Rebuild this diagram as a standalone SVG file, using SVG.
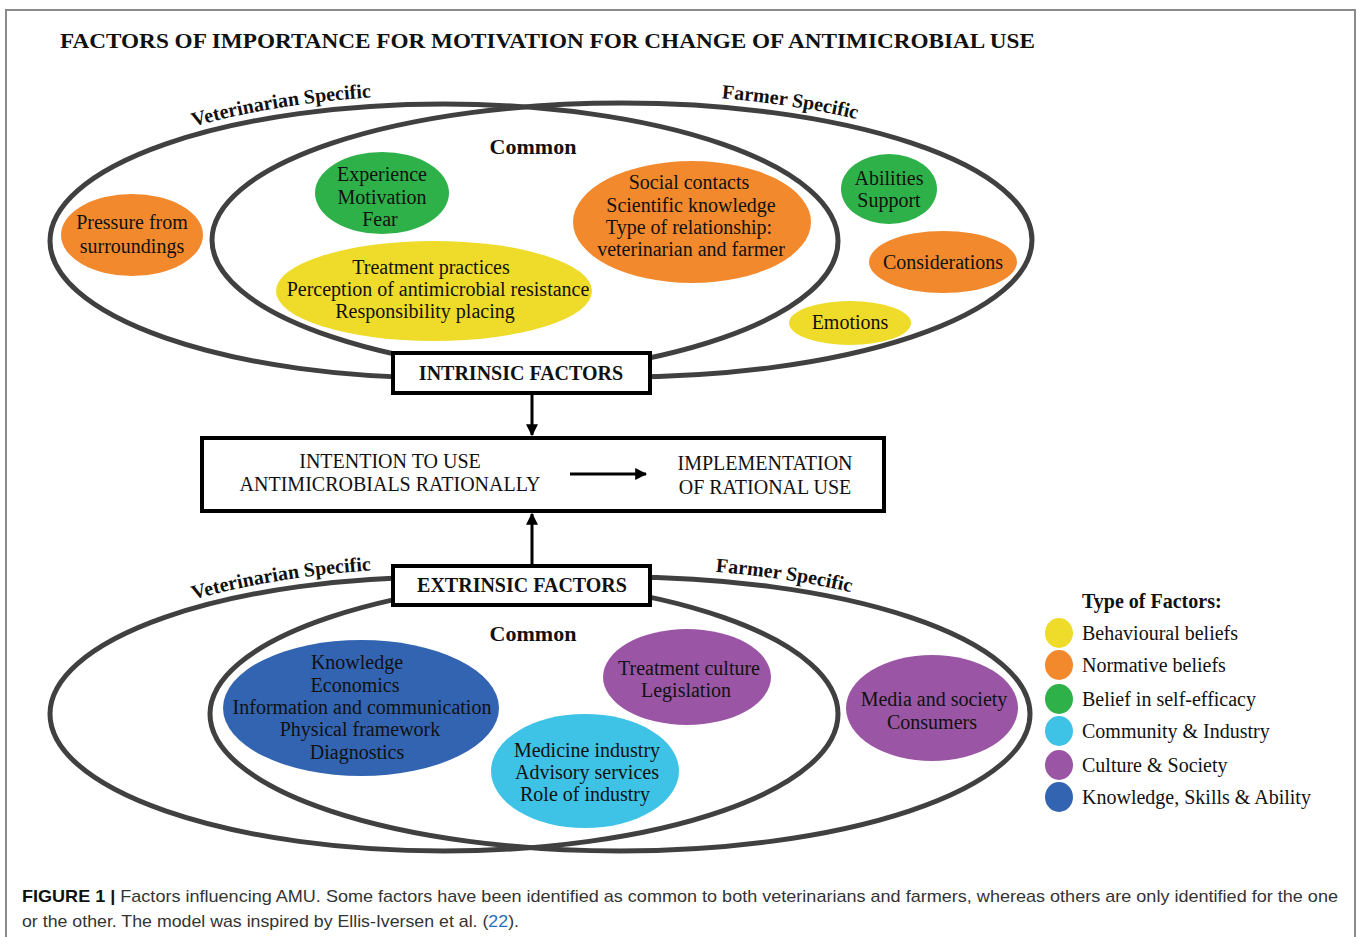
<svg xmlns="http://www.w3.org/2000/svg" width="1357" height="937" viewBox="0 0 1357 937">
<style>
.frame{fill:#fff;stroke:#8a8a8a;stroke-width:2}
.ring{fill:none;stroke:#404040;stroke-width:5}
.box{fill:#fff;stroke:#000;stroke-width:4}
.t{font-family:"Liberation Serif","Times New Roman",serif;font-size:20px;fill:#111;text-anchor:middle}
.b{font-weight:bold}
.cm{font-size:22px}
.lg{font-family:"Liberation Serif","Times New Roman",serif;font-size:20px;fill:#111}
.lab{font-family:"Liberation Serif","Times New Roman",serif;font-size:20px;font-weight:bold;fill:#111}
.cap{font-family:"Liberation Sans",Arial,sans-serif;font-size:17px;fill:#333}
.yel{fill:#efdc2a}.ora{fill:#f2892d}.gre{fill:#2eb149}.cya{fill:#3ec2e6}.pur{fill:#9a56a4}.blu{fill:#3264b1}
.con{stroke:#000;stroke-width:3;fill:none}
</style>
<defs>
<marker id="ah" viewBox="0 0 10 10" refX="9" refY="5" markerWidth="4" markerHeight="4" orient="auto" markerUnits="strokeWidth">
<path d="M0,0 L10,5 L0,10 z" fill="#000"/>
</marker>
<path id="vetTop" d="M 41,241 A 403,146 0 0,1 847,241"/>
<path id="farTop" d="M 203,240 A 419,146 0 0,1 1041,240"/>
<path id="vetBot" d="M 41,714 A 403,146 0 0,1 847,714"/>
<path id="farBot" d="M 201,714 A 419,146 0 0,1 1039,714"/>
</defs>
<rect class="frame" x="6" y="10" width="1349" height="940"/>
<text x="60" y="48" font-family="Liberation Serif,'Times New Roman',serif" font-size="21" font-weight="bold" fill="#111" textLength="975" lengthAdjust="spacingAndGlyphs">FACTORS OF IMPORTANCE FOR MOTIVATION FOR CHANGE OF ANTIMICROBIAL USE</text>

<g id="intrinsic-sets">
<ellipse class="ring" cx="444" cy="241" rx="394" ry="137"/>
<ellipse class="ring" cx="622" cy="240" rx="410" ry="137"/>
<text class="lab"><textPath href="#vetTop" startOffset="292" text-anchor="middle">Veterinarian Specific</textPath></text>
<text class="lab"><textPath href="#farTop" startOffset="638" text-anchor="middle">Farmer Specific</textPath></text>
<text class="t b cm" x="533" y="154">Common</text>
</g>

<g id="extrinsic-sets">
<ellipse class="ring" cx="444" cy="714" rx="394" ry="137"/>
<ellipse class="ring" cx="620" cy="714" rx="410" ry="137"/>
<text class="lab"><textPath href="#vetBot" startOffset="292" text-anchor="middle">Veterinarian Specific</textPath></text>
<text class="lab"><textPath href="#farBot" startOffset="634" text-anchor="middle">Farmer Specific</textPath></text>
<text class="t b cm" x="533" y="641">Common</text>
</g>

<g id="n-pressure"><ellipse class="ora" cx="132" cy="235" rx="71" ry="41"/>
<text class="t" x="132" y="229">Pressure from</text><text class="t" x="132" y="253">surroundings</text></g>
<g id="n-experience"><ellipse class="gre" cx="382" cy="193" rx="67" ry="41"/>
<text class="t" x="382" y="181">Experience</text><text class="t" x="382" y="204">Motivation</text><text class="t" x="380" y="226">Fear</text></g>
<g id="n-treatment"><ellipse class="yel" cx="434" cy="291" rx="158" ry="50"/>
<text class="t" x="431" y="274">Treatment practices</text><text class="t" x="438" y="296">Perception of antimicrobial resistance</text><text class="t" x="425" y="318">Responsibility placing</text></g>
<g id="n-social"><ellipse class="ora" cx="692" cy="222" rx="119" ry="61"/>
<text class="t" x="689" y="189">Social contacts</text><text class="t" x="691" y="212">Scientific knowledge</text><text class="t" x="689" y="234">Type of relationship:</text><text class="t" x="691" y="256">veterinarian and farmer</text></g>
<g id="n-abilities"><ellipse class="gre" cx="889" cy="189" rx="48" ry="35"/>
<text class="t" x="889" y="185">Abilities</text><text class="t" x="889" y="207">Support</text></g>
<g id="n-considerations"><ellipse class="ora" cx="943" cy="262" rx="74" ry="31"/>
<text class="t" x="943" y="269">Considerations</text></g>
<g id="n-emotions"><ellipse class="yel" cx="850" cy="323" rx="61" ry="22"/>
<text class="t" x="850" y="329">Emotions</text></g>

<g id="n-knowledge"><ellipse class="blu" cx="361" cy="708" rx="138" ry="68"/>
<text class="t" x="357" y="669">Knowledge</text><text class="t" x="355" y="692">Economics</text><text class="t" x="362" y="714">Information and communication</text><text class="t" x="360" y="736">Physical framework</text><text class="t" x="357" y="759">Diagnostics</text></g>
<g id="n-medicine"><ellipse class="cya" cx="585" cy="771" rx="94" ry="57"/>
<text class="t" x="587" y="757">Medicine industry</text><text class="t" x="587" y="779">Advisory services</text><text class="t" x="585" y="801">Role of industry</text></g>
<g id="n-culture"><ellipse class="pur" cx="687" cy="677" rx="84" ry="48"/>
<text class="t" x="689" y="675">Treatment culture</text><text class="t" x="686" y="697">Legislation</text></g>
<g id="n-media"><ellipse class="pur" cx="932" cy="708" rx="86" ry="53"/>
<text class="t" x="934" y="706">Media and society</text><text class="t" x="932" y="729">Consumers</text></g>

<g id="n-intrinsic"><rect class="box" x="393" y="353" width="257" height="40"/>
<text class="t b" x="521" y="380">INTRINSIC FACTORS</text></g>
<g id="n-extrinsic"><rect class="box" x="393" y="566" width="257" height="39"/>
<text class="t b" x="522" y="592">EXTRINSIC FACTORS</text></g>
<g id="n-intention"><rect class="box" x="202" y="438" width="682" height="73"/>
<text class="t" x="390" y="468">INTENTION TO USE</text><text class="t" x="390" y="491">ANTIMICROBIALS RATIONALLY</text>
<text class="t" x="765" y="470">IMPLEMENTATION</text><text class="t" x="765" y="494">OF RATIONAL USE</text></g>

<g id="connectors">
<line class="con" x1="532" y1="395" x2="532" y2="435" marker-end="url(#ah)"/>
<line class="con" x1="532" y1="564" x2="532" y2="514" marker-end="url(#ah)"/>
<line class="con" x1="570" y1="474" x2="646" y2="474" stroke-width="4" marker-end="url(#ah)"/>
</g>

<g id="legend">
<text class="lg b" x="1082" y="608">Type of Factors:</text>
<ellipse class="yel" cx="1059" cy="633" rx="14" ry="15"/><text class="lg" x="1082" y="640">Behavioural beliefs</text>
<ellipse class="ora" cx="1059" cy="665" rx="14" ry="15"/><text class="lg" x="1082" y="672">Normative beliefs</text>
<ellipse class="gre" cx="1059" cy="699" rx="14" ry="15"/><text class="lg" x="1082" y="706">Belief in self-efficacy</text>
<ellipse class="cya" cx="1059" cy="731" rx="14" ry="15"/><text class="lg" x="1082" y="738">Community &amp; Industry</text>
<ellipse class="pur" cx="1059" cy="765" rx="14" ry="15"/><text class="lg" x="1082" y="772">Culture &amp; Society</text>
<ellipse class="blu" cx="1059" cy="797" rx="14" ry="15"/><text class="lg" x="1082" y="804">Knowledge, Skills &amp; Ability</text>
</g>

<g id="caption">
<text class="cap" x="22" y="902" textLength="1316" lengthAdjust="spacingAndGlyphs"><tspan font-weight="bold" fill="#111">FIGURE 1 |</tspan> Factors influencing AMU. Some factors have been identified as common to both veterinarians and farmers, whereas others are only identified for the one</text>
<text class="cap" x="22" y="927" textLength="497" lengthAdjust="spacingAndGlyphs">or the other. The model was inspired by Ellis-Iversen et al. (<tspan fill="#2a6ebb">22</tspan>).</text>
</g>
</svg>
